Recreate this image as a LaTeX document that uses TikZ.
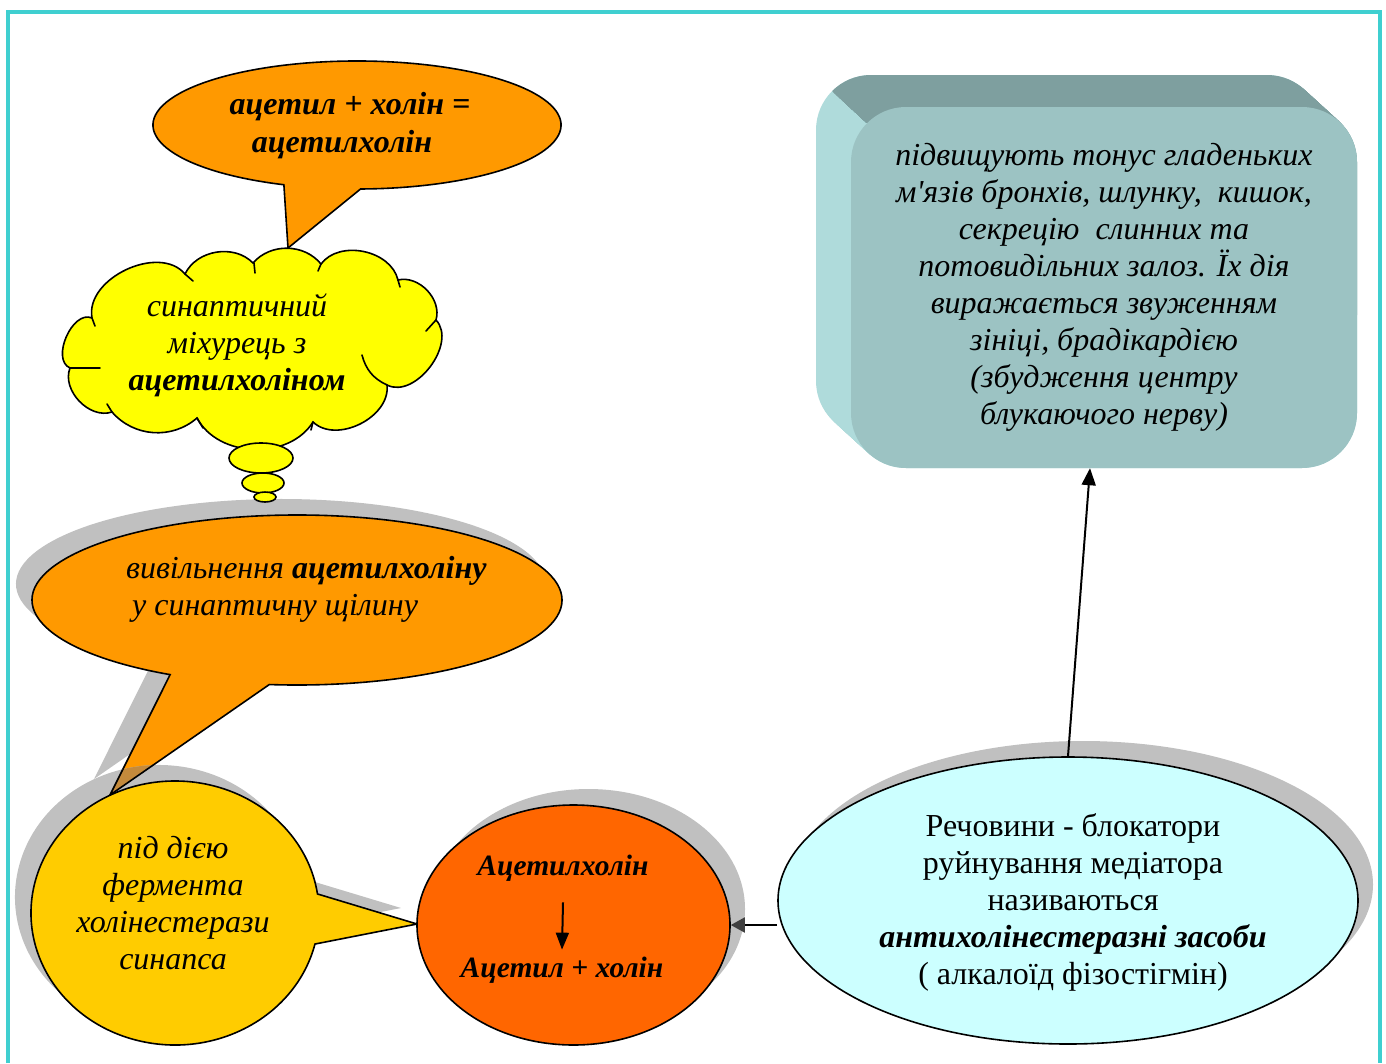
\documentclass[tikz,border=0pt]{standalone}
\usepackage{fontspec}
\setmainfont{Liberation Serif}
\newfontfamily\boxfont{Liberation Serif}
\usetikzlibrary{arrows.meta,shadows,calc,shapes.geometric}

\definecolor{framecol}{HTML}{3FCFD0}
\definecolor{bubbleorange}{HTML}{FF9900}
\definecolor{cloudyellow}{HTML}{FFFF00}
\definecolor{enzymeyellow}{HTML}{FFCC00}
\definecolor{splitred}{HTML}{FF6600}
\definecolor{blockercyan}{HTML}{CCFFFF}
\definecolor{shadowgray}{HTML}{C0C0C0}
\definecolor{overlapbrown}{HTML}{C48A3C}
\definecolor{boxfront}{HTML}{9CC3C3}
\definecolor{boxtop}{HTML}{7E9F9F}
\definecolor{boxside}{HTML}{AFDBDB}
\definecolor{arrowgray}{HTML}{404040}

% callout outlines (ellipse arc plus a pointed tail)
\def\formulapath{(357,125) ++(111:204 and 64) arc[start angle=111, end angle=449, x radius=204, y radius=64] -- (288,248) -- cycle}
\def\releasepath{(297,600) ++(118.6:265 and 85) arc[start angle=118.6, end angle=456, x radius=265, y radius=85] -- (110,795) -- cycle}
\def\enzymepath{(175,913) ++(13.6:144 and 132) arc[start angle=13.6, end angle=351.7, x radius=144, y radius=132] -- (417,924) -- cycle}
% cloud: puffs between notch points, clockwise from the left
\def\cloudpath{(92,318) to[bend left=75] (185,274) to[bend left=55] (253,263) to[bend left=50] (321,264) to[bend left=65] (398,280) to[bend left=60] (436,320) to[bend left=80] (387,385) to[bend left=70] (313,422) to[bend left=60] (197,418) to[bend left=45] (112,412) to[bend left=65] (70,368) to[bend left=90] (92,318) -- cycle}

\begin{document}
\begin{tikzpicture}[x=1pt,y=-1pt,
  outline/.style={draw=black, line width=1.6pt},
  crease/.style={draw=black, line width=1.6pt, line cap=round},
  txt/.style={align=center, inner sep=0pt},
  reg/.style={font=\fontsize{32}{37}\selectfont},
  it/.style={font=\fontsize{32}{37}\selectfont\itshape},
  bi/.style={font=\fontsize{32}{37}\selectfont\bfseries\itshape},
  conn/.style={line width=2pt, -{Triangle[length=17pt,width=14pt]}},
  shadowed/.style={general shadow={fill=shadowgray, shadow xshift=15pt, shadow yshift=16pt}}]

\useasboundingbox (0,0) rectangle (1386,1063);
\fill[white] (0,0) rectangle (1386,1063);

% page frame
\draw[framecol, line width=4pt] (7.5,1063) -- (7.5,11.5) -- (1379.5,11.5) -- (1379.5,1063);

% bevelled box: extruded sides, then the front face
\foreach \s in {0,1,...,35} {
  \fill[boxside, rounded corners=55pt] ({851-\s},{107-\s*32/35}) rectangle ({1357-\s},{468-\s*32/35});
}
\begin{scope}
  \clip (657,-69) -- (1077,315) -- (1450,315) -- (1450,-69) -- cycle;
  \foreach \s in {0,1,...,35} {
    \fill[boxtop, rounded corners=55pt] ({851-\s},{107-\s*32/35}) rectangle ({1357-\s},{468-\s*32/35});
  }
\end{scope}
\node[txt, font=\fontsize{32}{37}\selectfont\boxfont\itshape, fill=boxfront, rounded corners=55pt, minimum width=506pt, minimum height=361pt] (effects) at (1104,287.5)
  {підвищують тонус гладеньких\\м'язів бронхів, шлунку,\ \ кишок,\\секрецію\ \ слинних та\\потовидільних залоз. Їх дія\\виражається звуженням\\зініці, брадікардією\\(збудження центру\\блукаючого нерву)};

% blocker ellipse
\node[ellipse, outline, fill=blockercyan, shadowed, minimum width=580pt, minimum height=287pt, inner sep=0pt] (blocker) at (1068,900.5) {};
\node[txt, reg] (blockertext) at (1073,902)
  {Речовини - блокатори\\руйнування медіатора\\називаються\\\textbf{\textit{антихолінестеразні засоби}}\\( алкалоїд фізостігмін)};

% formula callout
\fill[bubbleorange] \formulapath;
\draw[outline, line join=miter] \formulapath;
\node[txt, font=\fontsize{32}{38}\selectfont\bfseries\itshape] (formula) at (342,126) {\hspace*{16pt}ацетил + холін =\\ацетилхолін};

% release callout with its shadow
\fill[shadowgray, xshift=-16pt, yshift=16pt] \releasepath;
\fill[bubbleorange] \releasepath;
\draw[outline] \releasepath;
\node[txt, it, align=left, anchor=west] (release) at (126,589)
  {вивільнення \textbf{ацетилхоліну}\\\hspace*{6pt}у синаптичну щілину};

% vesicle cloud, its creases and trailing puffs
\fill[cloudyellow] \cloudpath;
\draw[outline] \cloudpath;
\draw[crease] (92,318) -- (95,326);
\draw[crease] (185,274) -- (193,281);
\draw[crease] (254,263) -- (255,273);
\draw[crease] (321,264) -- (318,271);
\draw[crease] (398,280) -- (400,287);
\draw[crease] (436,320) -- (426,331);
\draw[crease] (387,385) to[bend left=25] (362,355);
\draw[crease] (313,422) -- (311,430);
\draw[crease] (197,418) -- (203,428);
\draw[crease] (112,412) -- (107,404);
\draw[crease] (70,368) -- (100,368);
\node[txt, it] (vesicle) at (237,345) {синаптичний\\міхурець з\\\textbf{ацетилхоліном}};
\draw[outline, fill=cloudyellow] (261,458) ellipse[x radius=32, y radius=15];
\draw[outline, fill=cloudyellow] (263,483) ellipse[x radius=21, y radius=10];
\draw[outline, fill=cloudyellow] (265,497) ellipse[x radius=11, y radius=5];

% enzyme callout; its shadow darkens the release tail where they overlap
\fill[shadowgray, xshift=-16pt, yshift=16pt] \enzymepath;
\begin{scope}
  \clip[xshift=-16pt, yshift=16pt] (175,913) ellipse[x radius=144, y radius=132];
  \fill[overlapbrown] \releasepath;
  \draw[outline] \releasepath;
\end{scope}
\fill[enzymeyellow] \enzymepath;
\draw[outline] \enzymepath;
\node[txt, it] (enzyme) at (173,903) {під дією\\фермента\\холінестерази\\синапса};

% hydrolysis circle
\node[ellipse, outline, fill=splitred, shadowed, minimum width=313pt, minimum height=240pt, inner sep=0pt] (hydrolysis) at (573.5,925) {};
\node[txt, font=\fontsize{29.5}{36}\selectfont\bfseries\itshape] (ach) at (563,868) {Ацетилхолін};
\node[txt, font=\fontsize{29.5}{36}\selectfont\bfseries\itshape] (split) at (562,970) {Ацетил + холін};
\draw[line width=2pt, -{Triangle[length=17pt,width=13pt]}] ([yshift=-21pt]ach.south) -- ([yshift=7pt]split.north);

% connectors
\draw[conn, -{Triangle[length=14pt,width=15pt,color=arrowgray]}] (hydrolysis.east -| blocker.west) -- (hydrolysis.east);
\draw[conn] (blocker.north) -- ($(effects.south)+(-14,0)$);
\end{tikzpicture}
\end{document}
